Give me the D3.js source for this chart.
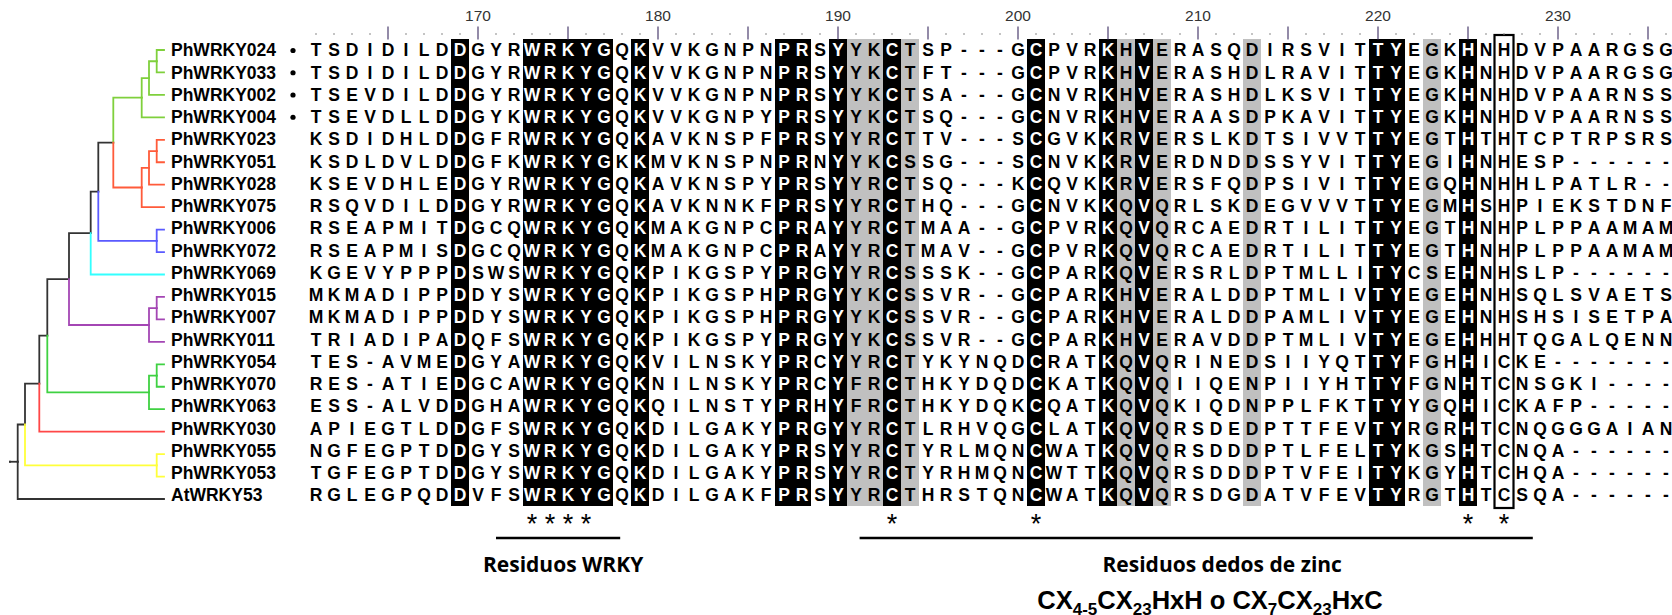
<!DOCTYPE html>
<html>
<head>
<meta charset="utf-8">
<script src="https://cdn.jsdelivr.net/npm/d3@7"></script>
<style>
   body { margin: 0; background: #fff; }
   .label { font-family: "Liberation Sans", Arial, sans-serif; font-weight: bold; font-size: 17.5px; fill: #000; }
   .res { font-family: "Liberation Sans", Arial, sans-serif; font-weight: bold; font-size: 17.5px; text-anchor: middle; }
   .rulerNum { font-family: "Liberation Sans", Arial, sans-serif; font-size: 15.5px; fill: #333; text-anchor: middle; }
   .star { font-family: "Liberation Sans", Arial, sans-serif; font-size: 27px; text-anchor: middle; }
   .region { font-family: "Open Sans", sans-serif; font-weight: bold; font-size: 21px; text-anchor: middle; }
   .formula { font-family: "Liberation Sans", Arial, sans-serif; font-weight: bold; font-size: 25.5px; text-anchor: middle; }
</style>
</head>
<body>
<div id="chart"></div>
<script>
const width = 1672;
const height = 615;

// alignment rows, top to bottom
const names = ["PhWRKY024","PhWRKY033","PhWRKY002","PhWRKY004","PhWRKY023","PhWRKY051","PhWRKY028",
   "PhWRKY075","PhWRKY006","PhWRKY072","PhWRKY069","PhWRKY015","PhWRKY007","PhWRKY011","PhWRKY054",
   "PhWRKY070","PhWRKY063","PhWRKY030","PhWRKY055","PhWRKY053","AtWRKY53"];

const seqs = [
   "TSDIDILDDGYRWRKYGQKVVKGNPNPRSYYKCTSP---GCPVRKHVERASQDIRSVITTYEGKHNHDVPAARGSG",
   "TSDIDILDDGYRWRKYGQKVVKGNPNPRSYYKCTFT---GCPVRKHVERASHDLRAVITTYEGKHNHDVPAARGSG",
   "TSEVDILDDGYRWRKYGQKVVKGNPNPRSYYKCTSA---GCNVRKHVERASHDLKSVITTYEGKHNHDVPAARNSS",
   "TSEVDLLDDGYKWRKYGQKVVKGNPYPRSYYKCTSQ---GCNVRKHVERAASDPKAVITTYEGKHNHDVPAARNSS",
   "KSDIDHLDDGFRWRKYGQKAVKNSPFPRSYYRCTTV---SCGVKKRVERSLKDTSIVVTTYEGTHTHTCPTRPSRS",
   "KSDLDVLDDGFKWRKYGKKMVKNSPNPRNYYKCSSG---SCNVKKRVERDNDDSSYVITTYEGIHNHESP------",
   "KSEVDHLEDGYRWRKYGQKAVKNSPYPRSYYRCTSQ---KCQVKKRVERSFQDPSIVITTYEGQHNHHLPATLR--",
   "RSQVDILDDGYRWRKYGQKAVKNNKFPRSYYRCTHQ---GCNVKKQVQRLSKDEGVVVTTYEGMHSHPIEKSTDNF",
   "RSEAPMITDGCQWRKYGQKMAKGNPCPRAYYRCTMAA--GCPVRKQVQRCAEDRTILITTYEGTHNHPLPPAAMAM",
   "RSEAPMISDGCQWRKYGQKMAKGNPCPRAYYRCTMAV--GCPVRKQVQRCAEDRTILITTYEGTHNHPLPPAAMAM",
   "KGEVYPPPDSWSWRKYGQKPIKGSPYPRGYYRCSSSK--GCPARKQVERSRLDPTMLLITYCSEHNHSLP------",
   "MKMADIPPDDYSWRKYGQKPIKGSPHPRGYYKCSSVR--GCPARKHVERALDDPTMLIVTYEGEHNHSQLSVAETS",
   "MKMADIPPDDYSWRKYGQKPIKGSPHPRGYYKCSSVR--GCPARKHVERALDDPAMLIVTYEGEHNHSHSISETPA",
   "TRIADIPADQFSWRKYGQKPIKGSPYPRGYYKCSSVR--GCPARKHVERAVDDPTMLIVTYEGEHHHTQGALQENN",
   "TES-AVMEDGYAWRKYGQKVILNSKYPRCYYRCTYKYNQDCRATKQVQRINEDSIIYQTTYFGHHICKE-------",
   "RES-ATIEDGCAWRKYGQKNILNSKYPRCYFRCTHKYDQDCKATKQVQIIQENPIIYHTTYFGNHTCNSGKI----",
   "ESS-ALVDDGHAWRKYGQKQILNSTYPRHYFRCTHKYDQKCQATKQVQKIQDNPPLFKTTYYGQHICKAFP-----",
   "APIEGTLDDGFSWRKYGQKDILGAKYPRGYYRCTLRHVQGCLATKQVQRSDEDPTTFEVTYRGRHTCNQGGGAIAN",
   "NGFEGPTDDGYSWRKYGQKDILGAKYPRSYYRCTYRLMQNCWATKQVQRSDDDPTLFELTYKGSHTCNQA------",
   "TGFEGPTDDGYSWRKYGQKDILGAKYPRSYYRCTYRHMQNCWTTKQVQRSDDDPTVFEITYKGYHTCHQA------",
   "RGLEGPQDDVFSWRKYGQKDILGAKFPRSYYRCTHRSTQNCWATKQVQRSDGDATVFEVTYRGTHTCSQA------"
];

const marked = ["PhWRKY024","PhWRKY033","PhWRKY002","PhWRKY004"];

// clade colour of each row
const groupColors = ["#7fd03c","#7fd03c","#7fd03c","#7fd03c","#ff5b3a","#ff5b3a","#ff5b3a","#ff5b3a",
   "#5a5aff","#5a5aff","#33ffff","#a446b4","#a446b4","#a446b4","#3fd142","#3fd142","#3fd142",
   "#ff4747","#ffff3a","#ffff3a","#333333"];

const tree = "((((((((((((PhWRKY024:7.3,PhWRKY033:7.3):7.7,PhWRKY002:15):7.3,PhWRKY004:22.3):28.4," +
   "(((PhWRKY023:7.3,PhWRKY051:7.3):7.7,PhWRKY028:15):7.3,PhWRKY075:22.3):28.4):15," +
   "(PhWRKY006:7.3,PhWRKY072:7.3):58.4):7.6,PhWRKY069:73.3):21.7," +
   "((PhWRKY015:7.3,PhWRKY007:7.3):7.7,PhWRKY011:15):80):21.7," +
   "((PhWRKY054:7.3,PhWRKY070:7.3):7.7,PhWRKY063:15):101.7):8,PhWRKY030:124.7):14.3," +
   "(PhWRKY055:7.3,PhWRKY053:7.3):131.7):7.3,AtWRKY53:146.3):7.7";

// alignment positions
const firstPos = 161;
const lastPos = 236;
const rulerLabels = [170, 180, 190, 200, 210, 220, 230];
const blackCols = [169, 173, 174, 175, 176, 177, 179, 187, 188, 190, 193, 201, 205, 207, 220, 221, 225];
const grayCols = [191, 192, 194, 206, 208, 213, 223];
const boxedCols = [227];
const starCols = [173, 174, 175, 176, 193, 201, 225, 227];

const regions = [
   {label: "Residuos WRKY", from: 171, to: 177.9},
   {label: "Residuos dedos de zinc", from: 191.2, to: 228.6}
];

const svg = d3.select("#chart").append("svg")
   .attr("width", width)
   .attr("height", height)
   .style("display", "block");

svg.append("rect").attr("width", width).attr("height", height).attr("fill", "#fff");

const x = d3.scaleLinear().domain([firstPos, lastPos]).range([316, 1666]);
const y = d3.scaleLinear().domain([0, names.length - 1]).range([50, 495]);
const colW = x(firstPos + 1) - x(firstPos);

// column shading
svg.selectAll("rect.gray")
   .data(grayCols)
   .enter().append("rect")
   .attr("class", "gray")
   .attr("x", d => x(d) - colW / 2)
   .attr("y", y(0) - 11)
   .attr("width", colW)
   .attr("height", y(names.length - 1) - y(0) + 22)
   .attr("fill", "#c0c0c0");

svg.selectAll("rect.black")
   .data(blackCols)
   .enter().append("rect")
   .attr("class", "black")
   .attr("x", d => x(d) - colW / 2)
   .attr("y", y(0) - 11)
   .attr("width", colW)
   .attr("height", y(names.length - 1) - y(0) + 22)
   .attr("fill", "#000");

svg.selectAll("rect.boxed")
   .data(boxedCols)
   .enter().append("rect")
   .attr("class", "boxed")
   .attr("x", d => x(d) - colW / 2 - 0.5)
   .attr("y", y(0) - 15)
   .attr("width", colW + 1)
   .attr("height", y(names.length - 1) - y(0) + 28)
   .attr("fill", "none")
   .attr("stroke", "#000")
   .attr("stroke-width", 2.2);

// ruler
const positions = d3.range(firstPos, lastPos + 1);
svg.selectAll("line.tick")
   .data(positions.filter(p => p % 5 === 0))
   .enter().append("line")
   .attr("class", "tick")
   .attr("x1", d => x(d)).attr("x2", d => x(d))
   .attr("y1", 26.5).attr("y2", 39.5)
   .attr("stroke", "#4b3d6e")
   .attr("stroke-width", 1.2);

svg.selectAll("rect.dot")
   .data(positions.filter(p => p % 5 !== 0))
   .enter().append("rect")
   .attr("class", "dot")
   .attr("x", d => x(d) - 0.7)
   .attr("y", 33.3)
   .attr("width", 1.4).attr("height", 1.4)
   .attr("fill", "#888");

svg.selectAll("text.rulerNum")
   .data(rulerLabels)
   .enter().append("text")
   .attr("class", "rulerNum")
   .attr("x", d => x(d))
   .attr("y", 21)
   .text(d => d);

// rows
const rows = svg.selectAll("g.row")
   .data(names)
   .enter().append("g")
   .attr("class", "row")
   .attr("transform", (d, i) => `translate(0,${y(i)})`);

rows.append("text")
   .attr("class", "label")
   .attr("x", 171)
   .attr("y", 6.3)
   .text(d => d);

rows.filter(d => marked.includes(d))
   .append("circle")
   .attr("cx", 293).attr("cy", 0.5).attr("r", 2.6)
   .attr("fill", "#000");

rows.each(function(d, i) {
   const letters = seqs[i].split("").map((c, j) => ({c: c, pos: firstPos + j}));
   d3.select(this).selectAll("text.res")
      .data(letters)
      .enter().append("text")
      .attr("class", "res")
      .attr("x", e => x(e.pos))
      .attr("y", 6.3)
      .attr("fill", e => blackCols.includes(e.pos) ? "#fff" : "#000")
      .text(e => e.c);
});

// conserved residues
svg.selectAll("text.star")
   .data(starCols)
   .enter().append("text")
   .attr("class", "star")
   .attr("x", d => x(d))
   .attr("y", 533)
   .text("*");

// domain brackets
svg.selectAll("line.region")
   .data(regions)
   .enter().append("line")
   .attr("class", "region")
   .attr("x1", d => x(d.from)).attr("x2", d => x(d.to))
   .attr("y1", 538).attr("y2", 538)
   .attr("stroke", "#000")
   .attr("stroke-width", 2.6);

svg.selectAll("text.region")
   .data(regions)
   .enter().append("text")
   .attr("class", "region")
   .attr("x", (d, i) => (x(d.from) + x(d.to)) / 2 + (i === 0 ? 5 : 26))
   .attr("y", 572)
   .text(d => d.label);

const formula = svg.append("text")
   .attr("class", "formula")
   .attr("x", 1210)
   .attr("y", 609);
const parts = [["CX", 0], ["4-5", 1], ["CX", 0], ["23", 1], ["HxH o CX", 0], ["7", 1], ["CX", 0], ["23", 1], ["HxC", 0]];
let shifted = false;
parts.forEach(p => {
   const t = formula.append("tspan").text(p[0]);
   if (p[1]) t.style("font-size", "17px");
   if (p[1] && !shifted) { t.attr("dy", 6); shifted = true; }
   else if (!p[1] && shifted) { t.attr("dy", -6); shifted = false; }
});

// tree
function parseNewick(s) {
   let i = 0;
   function node() {
      const n = {};
      if (s[i] === "(") {
         n.children = [];
         i++;
         n.children.push(node());
         while (s[i] === ",") { i++; n.children.push(node()); }
         i++;
      }
      let name = "";
      while (i < s.length && !",():".includes(s[i])) name += s[i++];
      n.name = name;
      if (s[i] === ":") {
         i++;
         let len = "";
         while (i < s.length && !",()".includes(s[i])) len += s[i++];
         n.length = +len;
      }
      return n;
   }
   return node();
}

const root = d3.hierarchy(parseNewick(tree));
root.eachBefore(d => d.len = (d.parent ? d.parent.len : 0) + (d.data.length || 0));

const tx = d3.scaleLinear().domain([0, d3.max(root.leaves(), d => d.len)]).range([10, 164]);
const ty = d3.scaleLinear().domain([0, names.length - 1]).range([50, 499]);

root.eachAfter(d => {
   if (d.children) {
      d.yv = (d.children[0].yv + d.children[d.children.length - 1].yv) / 2;
      const c0 = d.children[0].color;
      d.color = d.children.every(c => c.color === c0) ? c0 : "#333333";
   } else {
      const idx = names.indexOf(d.data.name);
      d.yv = ty(idx);
      d.color = groupColors[idx];
   }
});

svg.selectAll("path.branch")
   .data(root.descendants())
   .enter().append("path")
   .attr("class", "branch")
   .attr("d", d => d.parent
      ? `M${tx(d.parent.len)},${d.parent.yv}V${d.yv}H${tx(d.len)}`
      : `M${tx(0)},${d.yv}H${tx(d.len)}`)
   .attr("fill", "none")
   .attr("stroke", d => d.color)
   .attr("stroke-width", 1.8)
   .attr("stroke-linecap", "square");
</script>
</body>
</html>
